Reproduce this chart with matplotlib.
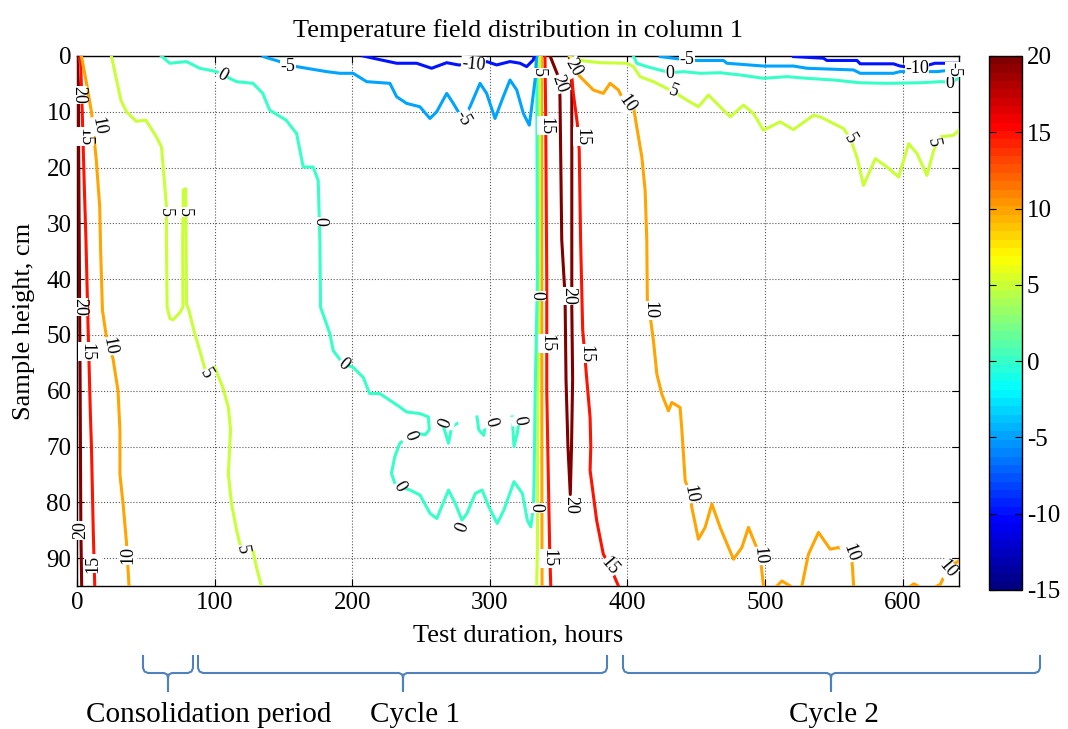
import numpy as np
import matplotlib as mpl
import matplotlib.pyplot as plt

plt.rcParams['font.family'] = ['Liberation Serif', 'DejaVu Serif']
plt.rcParams['axes.unicode_minus'] = False

# Isotherms: hours (h) vs sample height in cm (z)
# level 20
t20_left_h = [0, 1, 1.3, 1.8, 2.3, 2.8, 3.4]
t20_left_z = [0, 5, 20, 40, 60, 85, 95]
t20_mid_h = [343.8, 349.8, 351, 352.3, 354.7, 355.4, 356.8, 358.5, 359.4, 360.2, 359.6, 359.6, 359.6, 358.5, 357.8]
t20_mid_z = [0, 3.7, 7.3, 33, 43, 58, 70, 78.6, 70, 58, 45, 20, 5, 1.5, 0]
# level 15
t15_left_h = [2.5, 3.8, 5.5, 6.4, 8, 9.7, 10.5, 11.8, 12.9]
t15_left_z = [0, 10, 25, 32, 48, 64, 70, 85, 95]
t15_band_h = [340.1, 340.6, 341.4, 341.4, 342.5, 343.5, 344.3]
t15_band_z = [0, 10, 40, 60, 75, 88, 95]
t15_right_h = [358.2, 360.7, 363.6, 365, 366, 367.5, 370.5, 372.9, 373.4, 372.9, 377.7, 382.5, 387.4, 393.5]
t15_right_z = [0, 6.7, 12.1, 16.9, 33, 49, 58, 64.8, 70, 74.3, 83.3, 89.3, 91.5, 95]
# level 10
t10_left_h = [3.2, 7, 10.5, 14, 16.5, 17.2, 18.5, 21.4, 26.2, 29.8, 31.2, 31.2, 33.5, 35.9, 37.8]
t10_left_z = [0, 5, 10, 18.6, 27, 35, 45.6, 50.4, 54.3, 60, 67, 75, 80.3, 87, 95]
t10_band_h = [337.6, 337.7, 337.8, 337.9, 338.0]
t10_band_z = [0, 25, 55, 85, 95]
t10_c2_h = [359.5, 362, 368, 375.3, 382.5, 387.4, 393.5, 397.1, 399.6, 404.4, 406.8, 410.5, 412.9,
            414.1, 414.5, 416.5, 418.9, 421.4, 425, 429.8, 432.3, 438.3, 439.6, 442, 445.6, 446.8,
            451.6, 456.5, 461.4, 467.4, 477.1, 483.2, 488, 492.9, 496.5, 498.9]
t10_c2_z = [1, 2.8, 4.3, 6.1, 6.7, 4.9, 6.1, 7.9, 8.5, 9.1, 12.7, 18.1, 24.1,
            33, 43.8, 46.5, 51, 57, 60.6, 63.6, 62.1, 63, 67.1, 76.1, 78.5, 80.9,
            86.6, 84.5, 80.3, 84.5, 90.2, 88.1, 84.5, 87.5, 89.6, 95]
t10_b1_h = [508.7, 512.3, 518.3]
t10_b1_z = [95, 94.1, 95]
t10_b2_h = [526.8, 531.6, 538.9, 547.4, 553.5, 562.4, 563.6, 564.4]
t10_b2_z = [95, 89.3, 85.4, 88.4, 88.1, 89, 91.7, 95]
t10_b3_h = [606, 608.2, 611]
t10_b3_z = [95, 94.6, 95]
t10_b4_h = [625, 627.5, 632.5, 636, 641]
t10_b4_z = [95, 94.7, 92, 91.2, 90.5]
# level 5
t5_left_h = [25, 32, 36, 43, 50, 57.7, 61.4, 63, 65, 65, 65.5, 67.4, 69.8, 74.7, 77, 76.8, 77.3, 79, 79.3,
             79.6, 81, 85.6, 89.2, 94, 100, 106, 110, 111.6, 111, 110, 112.3, 116, 119.6, 128, 130.5, 134]
t5_left_z = [0, 8, 10, 11.7, 11.5, 14.5, 16.3, 21, 27, 33, 45, 47, 47.3, 46, 45, 33, 24, 23.8, 33,
             44.5, 45.3, 49.8, 52.8, 57, 55.8, 59.4, 63, 67, 70, 75, 80.3, 85, 88.7, 88.8, 91.7, 95]
t5_band_h = [336.3, 336.0, 335.1, 334.6, 334.1]
t5_band_z = [0, 40, 60, 88, 95]
t5_c2_h = [358, 362, 380, 399.6, 404.4, 409.2, 418.9, 426.2, 433.5, 443.2, 451.6, 458.9, 467.4, 474.7,
           484.4, 491.6, 498.9, 511, 520.7, 535.3, 540, 549.8, 557.1, 562, 566.8, 571.6, 580.2, 588.7,
           597.1, 604.4, 610.5, 617.7, 622.6, 627.5, 637, 641]
t5_c2_z = [0, 0.7, 1.2, 1.3, 1.9, 3.7, 4.6, 5.5, 6.4, 7.9, 9.1, 7, 9.1, 10.9,
           8.8, 10.3, 13.3, 11.8, 13.2, 10.6, 10.9, 12.1, 13, 14.8, 18.1, 23.2, 18.4, 19.9,
           21.7, 15.7, 17.5, 21.4, 16.9, 14.5, 14.2, 13.3]
# level 0
t0_main_h = [61.4, 67.4, 79.6, 89.2, 101.4, 106, 116, 128, 135, 140, 152, 159.6, 164.4, 171.6, 175.3,
             176.5, 177, 183.8, 186.2, 193.5, 200.7, 208, 212.7, 220, 227.3, 234.6, 239.5, 249.3, 255.4,
             256, 253, 246.8, 244.4, 242, 234.6, 231, 228.5, 231, 234.6, 242, 249.3, 256.6, 261.5, 264,
             270, 274.9, 279.8, 283.4, 289.5, 294.4, 299.3, 305.4, 310.2, 317.6, 323.7, 327.3, 329.8,
             331.7, 332.2, 333.0, 334.6, 334.1]
t0_main_z = [0, 1.3, 1, 2.2, 2.8, 3.4, 4.6, 4.9, 6.7, 9.7, 11.5, 13.9, 19.9, 19.9, 22.3,
             33, 45, 49.8, 52.8, 55.2, 55.8, 57.6, 60.5, 60.5, 61.7, 62.9, 63.8, 64.1, 64.7,
             67, 67.9, 67.6, 68.5, 68.2, 69.4, 71.8, 74.8, 76.6, 77.2, 77.8, 78.7, 82, 82.9, 81.4,
             77.8, 80.2, 83.2, 82, 78.4, 77.8, 80.8, 83.8, 81.4, 76.3, 78.4, 83.2, 84.4,
             80.8, 76, 60, 40, 0]
t0_lobe1_h = [263.9, 266.3, 270, 272.4, 276.1]
t0_lobe1_z = [65, 66.4, 69.4, 66.4, 65.9]
t0_lobe2_h = [290.7, 292, 295.6, 297]
t0_lobe2_z = [64.7, 67, 68, 65.9]
t0_lobe3_h = [316.3, 317.6, 320, 321.5]
t0_lobe3_z = [64.7, 70, 67.6, 65]
t0_c2_h = [404.4, 406.8, 414.1, 431, 440.7, 452.9, 467.4, 482, 498.9, 515.9, 530.5, 549.8, 569.2,
           588.7, 613, 627.5, 634.5, 641]
t0_c2_z = [0, 1.3, 1.9, 3, 2.8, 3.1, 3, 3.4, 4, 3.7, 4, 4.3, 4.8, 4.9, 4.8, 4.6, 4.7, 4]
# level -5
tm5_c1_h = [135.3, 147.4, 153.5, 159.6, 181.4, 191, 200.7, 210.5, 227.4, 232.3, 239.6, 249.2, 256.5,
            261.4, 268.7, 273.5, 277.1, 280.7, 285.6, 292.9, 297.7, 303.8, 309.8, 314.7, 319.6, 324.4,
            328.7, 330.5, 332.9, 334]
tm5_c1_z = [0.1, 1, 1.9, 1.9, 2.8, 3.1, 3.1, 4.6, 4.9, 7.3, 8.5, 9.1, 11.2,
            10, 6.7, 8.5, 10, 11.2, 9.1, 4.9, 6.7, 11.2, 7.3, 4.3, 6.1, 10.3,
            12.4, 9.1, 4.3, 0]
tm5_c2_h = [423.8, 443.2, 450.5, 469.8, 472.3, 498.9, 520.7, 530.5, 564.4, 569.2, 593.3, 598.2, 625, 636, 641]
tm5_c2_z = [0.1, 0.7, 0.8, 0.8, 1.3, 1.8, 1.8, 2.2, 2.5, 3.1, 3.1, 2.8, 2.8, 2.5, 2.5]
# level -10
tm10_c1_h = [208, 215.3, 232.3, 246.8, 257.7, 268.7, 277.1, 288, 297.7, 305, 314.7, 322, 326.8, 331.6, 332.5]
tm10_c1_z = [0, 0.4, 1.3, 1.3, 2.2, 1.2, 1.6, 1.6, 1, 1.6, 1, 1.3, 1.9, 0.7, 0]
tm10_c2_h = [520.7, 542.5, 545, 566.8, 569.2, 593.3, 598.2, 610.5, 623.5, 641]
tm10_c2_z = [0.1, 0.4, 0.8, 0.8, 1.4, 1.4, 1.8, 2.2, 1.3, 1.3]

isolines = [
    (20, t20_left_h, t20_left_z), (20, t20_mid_h, t20_mid_z),
    (15, t15_left_h, t15_left_z), (15, t15_band_h, t15_band_z), (15, t15_right_h, t15_right_z),
    (10, t10_left_h, t10_left_z), (10, t10_band_h, t10_band_z), (10, t10_c2_h, t10_c2_z),
    (10, t10_b1_h, t10_b1_z), (10, t10_b2_h, t10_b2_z), (10, t10_b3_h, t10_b3_z), (10, t10_b4_h, t10_b4_z),
    (5, t5_left_h, t5_left_z), (5, t5_band_h, t5_band_z), (5, t5_c2_h, t5_c2_z),
    (0, t0_main_h, t0_main_z), (0, t0_lobe1_h, t0_lobe1_z), (0, t0_lobe2_h, t0_lobe2_z),
    (0, t0_lobe3_h, t0_lobe3_z), (0, t0_c2_h, t0_c2_z),
    (-5, tm5_c1_h, tm5_c1_z), (-5, tm5_c2_h, tm5_c2_z),
    (-10, tm10_c1_h, tm10_c1_z), (-10, tm10_c2_h, tm10_c2_z),
]

# inline contour labels: text, hours, height, rotation
label_txt = ["20", "15", "10", "20", "15", "10", "20", "15", "10",
             "5", "5", "5", "5", "0", "-5", "0", "0",
             "0", "0", "0", "0", "0", "0", "-10", "-5",
             "5", "15", "0", "15", "0", "15", "20", "20", "20", "15", "15", "20", "15", "10",
             "0", "-5", "5", "10", "10", "10", "10", "10", "5", "5", "-10", "0", "-5"]
label_h = [1.0, 6.0, 15.5, 1.8, 7.5, 23.8, 2.8, 11.8, 37,
           64.5, 78.3, 94, 120, 106, 153.5, 176.5, 193.5,
           242, 234.6, 268, 300.5, 321.7, 280.5, 288, 280.7,
           335, 340.5, 334.5, 341.6, 333.5, 342.8, 351, 360.7, 357.5, 366.8, 370, 358.5, 387.4, 399.6,
           431, 443.2, 433.5, 416.5, 445.6, 496.5, 562.4, 632.5, 562, 622, 610.5, 634.5, 637.5]
label_z = [7, 14.5, 12.5, 45, 53, 52, 85, 91, 89.5,
           28, 28, 57, 88.5, 3.4, 1.9, 29.7, 55.2,
           68, 77.2, 65.8, 65.6, 65.3, 84.4, 1.6, 11.2,
           3, 12.5, 43, 51.5, 81, 90, 5, 2, 43, 14.5, 53.4, 80.5, 91.5, 8.5,
           3.1, 0.6, 6.4, 45.6, 78.5, 89.6, 89, 92, 14.8, 15.5, 2.2, 4.9, 2.4]
label_rot = [-90, -90, -80, -90, -90, -80, 90, 90, 90,
             -90, -90, -60, -80, -30, 0, -90, -40,
             -70, -60, 70, -75, -80, 70, -5, -60,
             -90, -90, -90, -90, -90, -90, -70, -60, -90, -90, -90, -90, -50, -55,
             0, 0, -20, -90, -80, -85, -70, -50, -60, -80, 0, 0, -90]

# MATLAB-style jet, 64 colours
jet_r = [(0, 0, 0), (3 / 8, 0, 0), (5 / 8, 1, 1), (7 / 8, 1, 1), (1, 0.5, 0.5)]
jet_g = [(0, 0, 0), (1 / 8, 0, 0), (3 / 8, 1, 1), (5 / 8, 1, 1), (7 / 8, 0, 0), (1, 0, 0)]
jet_b = [(0, 0.5, 0.5), (1 / 8, 1, 1), (3 / 8, 1, 1), (5 / 8, 0, 0), (1, 0, 0)]
cmap = mpl.colors.LinearSegmentedColormap('mjet', {'red': jet_r, 'green': jet_g, 'blue': jet_b}, N=64)
norm = mpl.colors.Normalize(vmin=-15, vmax=20)

fig = plt.figure(figsize=(10.68, 7.29), dpi=100)
ax = fig.add_axes([77 / 1068, 1 - 586 / 729, (959 - 77) / 1068, (586 - 56) / 729])

for level, h, z in isolines:
    ax.plot(h, z, color=cmap(norm(level)), lw=2.2, solid_joinstyle='round', zorder=3)

for txt, h, z, rot in zip(label_txt, label_h, label_z, label_rot):
    ax.text(h, z, txt, rotation=rot, ha='center', va='center', fontsize=13,
            rotation_mode='anchor', zorder=5,
            bbox=dict(fc='white', ec='none', pad=0.2))

ax.set_xlim(0, 641)
ax.set_ylim(95, 0)
ax.set_xticks(np.arange(0, 601, 100))
ax.set_yticks(np.arange(0, 91, 10))
ax.grid(True, ls=':', color='0.35', lw=0.8)
ax.set_axisbelow(True)
ax.tick_params(direction='in', top=True, right=True, length=5, labelsize=18, pad=4)
for s in ax.spines.values():
    s.set_linewidth(1.0)
ax.set_title("Temperature field distribution in column 1", fontsize=19, pad=14)
ax.set_xlabel("Test duration, hours", fontsize=19, labelpad=8)
ax.set_ylabel("Sample height, cm", fontsize=19, labelpad=8)

# colorbar
cax = fig.add_axes([989 / 1068, 1 - 590 / 729, 33 / 1068, (590 - 56) / 729])
sm = mpl.cm.ScalarMappable(cmap=cmap, norm=norm)
cb = fig.colorbar(sm, cax=cax, ticks=np.arange(-15, 21, 5))
cb.ax.tick_params(direction='in', length=5, labelsize=18, left=True, right=True)
cb.outline.set_linewidth(1.0)

# braces under the axis (figure pixel coordinates)
ov = fig.add_axes([0, 0, 1, 1])
ov.set_xlim(0, 1068)
ov.set_ylim(729, 0)
ov.axis('off')

brace_x0 = [143, 198, 623]
brace_x1 = [193, 607, 1040]
brace_tip = [168, 403, 831]
brace_txt = ["Consolidation period", "Cycle 1", "Cycle 2"]
brace_txt_x = [209, 415, 834]


def brace(x0, x1, xt, ytop=656, ymid=673, ytip=691):
    bx = [x0, x0, x0 + 1.5, x0 + 5, xt - 4, xt - 0.8, xt, xt, xt, xt + 0.8, xt + 4, x1 - 5, x1 - 1.5, x1, x1]
    by = [ytop, ymid - 5, ymid - 1.5, ymid, ymid, ymid + 1.5, ymid + 5, ytip, ymid + 5, ymid + 1.5,
          ymid, ymid, ymid - 1.5, ymid - 5, ytop]
    ov.plot(bx, by, color='#4F81BD', lw=1.5)


for x0, x1, xt in zip(brace_x0, brace_x1, brace_tip):
    brace(x0, x1, xt)
for t, x in zip(brace_txt, brace_txt_x):
    ov.text(x, 715, t, ha='center', va='center', fontsize=21)

plt.savefig("out.png", dpi=100)
